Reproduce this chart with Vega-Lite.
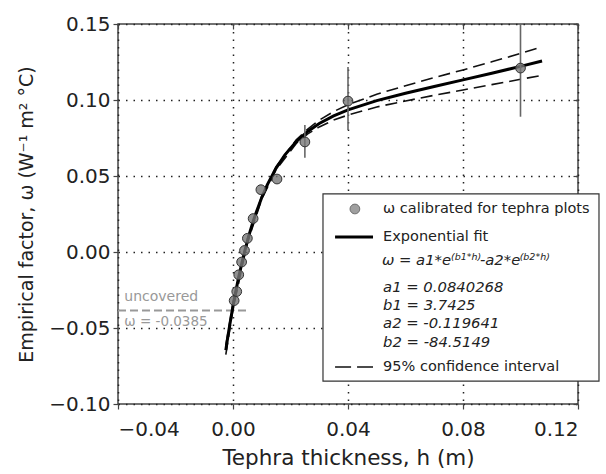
{
  "$schema": "https://vega.github.io/schema/vega-lite/v6.json",
  "width": 460,
  "height": 380,
  "autosize": {"type": "none"},
  "padding": {"left": 118, "right": 28, "top": 24, "bottom": 70},
  "background": "white",
  "config": {
    "font": "DejaVu Sans",
    "view": {"stroke": "#444", "strokeWidth": 1.5},
    "axis": {
      "labelFont": "DejaVu Sans",
      "titleFont": "DejaVu Sans",
      "labelFontSize": 20,
      "titleFontSize": 18,
      "titleFontWeight": "normal",
      "labelColor": "#222",
      "titleColor": "#222",
      "domain": false,
      "tickColor": "#444",
      "tickWidth": 1.2,
      "tickSize": 5,
      "gridColor": "#222",
      "gridDash": [1.5, 6],
      "gridWidth": 1.5
    }
  },
  "datasets": {
    "fit": [
      {"h": -0.0025, "w": -0.064546},
      {"h": -0.002, "w": -0.058272},
      {"h": -0.0015, "w": -0.052256},
      {"h": -0.001, "w": -0.046479},
      {"h": -0.0005, "w": -0.040935},
      {"h": 0, "w": -0.035614},
      {"h": 0.0005, "w": -0.030507},
      {"h": 0.001, "w": -0.025603},
      {"h": 0.0015, "w": -0.020896},
      {"h": 0.002, "w": -0.016378},
      {"h": 0.003, "w": -0.007876},
      {"h": 0.004, "w": -0.000032},
      {"h": 0.005, "w": 0.007206},
      {"h": 0.006, "w": 0.013885},
      {"h": 0.007, "w": 0.020045},
      {"h": 0.008, "w": 0.025732},
      {"h": 0.01, "w": 0.035844},
      {"h": 0.012, "w": 0.044491},
      {"h": 0.015, "w": 0.055204},
      {"h": 0.018, "w": 0.063749},
      {"h": 0.022, "w": 0.072602},
      {"h": 0.026, "w": 0.079321},
      {"h": 0.03, "w": 0.084532},
      {"h": 0.035, "w": 0.089576},
      {"h": 0.04, "w": 0.093526},
      {"h": 0.05, "w": 0.09957},
      {"h": 0.06, "w": 0.10443},
      {"h": 0.07, "w": 0.10887},
      {"h": 0.08, "w": 0.113217},
      {"h": 0.09, "w": 0.117619},
      {"h": 0.1, "w": 0.122139},
      {"h": 0.1075, "w": 0.12563}
    ],
    "band": [
      {"h": -0.0025, "w": -0.0615, "b": "upper"},
      {"h": 0, "w": -0.0336, "b": "upper"},
      {"h": 0.005, "w": 0.0084, "b": "upper"},
      {"h": 0.01, "w": 0.0368, "b": "upper"},
      {"h": 0.015, "w": 0.0562, "b": "upper"},
      {"h": 0.022, "w": 0.0738, "b": "upper"},
      {"h": 0.026, "w": 0.0809, "b": "upper"},
      {"h": 0.03, "w": 0.0867, "b": "upper"},
      {"h": 0.035, "w": 0.0924, "b": "upper"},
      {"h": 0.04, "w": 0.0969, "b": "upper"},
      {"h": 0.05, "w": 0.1038, "b": "upper"},
      {"h": 0.06, "w": 0.1094, "b": "upper"},
      {"h": 0.07, "w": 0.1147, "b": "upper"},
      {"h": 0.08, "w": 0.1198, "b": "upper"},
      {"h": 0.09, "w": 0.1251, "b": "upper"},
      {"h": 0.1, "w": 0.1306, "b": "upper"},
      {"h": 0.1075, "w": 0.135, "b": "upper"},
      {"h": -0.0025, "w": -0.0675, "b": "lower"},
      {"h": 0, "w": -0.0376, "b": "lower"},
      {"h": 0.005, "w": 0.006, "b": "lower"},
      {"h": 0.01, "w": 0.0348, "b": "lower"},
      {"h": 0.015, "w": 0.0542, "b": "lower"},
      {"h": 0.022, "w": 0.0714, "b": "lower"},
      {"h": 0.026, "w": 0.0777, "b": "lower"},
      {"h": 0.03, "w": 0.0823, "b": "lower"},
      {"h": 0.035, "w": 0.0868, "b": "lower"},
      {"h": 0.04, "w": 0.0901, "b": "lower"},
      {"h": 0.05, "w": 0.0954, "b": "lower"},
      {"h": 0.06, "w": 0.0994, "b": "lower"},
      {"h": 0.07, "w": 0.1031, "b": "lower"},
      {"h": 0.08, "w": 0.1066, "b": "lower"},
      {"h": 0.09, "w": 0.1101, "b": "lower"},
      {"h": 0.1, "w": 0.1136, "b": "lower"},
      {"h": 0.1075, "w": 0.1162, "b": "lower"}
    ],
    "pts": [
      {"h": 0.0004, "w": -0.032},
      {"h": 0.0013, "w": -0.026},
      {"h": 0.002, "w": -0.015},
      {"h": 0.003, "w": -0.0066},
      {"h": 0.004, "w": 0.001},
      {"h": 0.005, "w": 0.009},
      {"h": 0.007, "w": 0.022},
      {"h": 0.0097, "w": 0.041},
      {"h": 0.0153, "w": 0.048},
      {"h": 0.025, "w": 0.0724},
      {"h": 0.04, "w": 0.0993},
      {"h": 0.1, "w": 0.121}
    ],
    "err": [
      {"h": 0.025, "lo": 0.062, "hi": 0.0836},
      {"h": 0.04, "lo": 0.0803, "hi": 0.1217},
      {"h": 0.1, "lo": 0.089, "hi": 0.15}
    ],
    "uncov": [
      {"h": -0.04, "h2": 0.0059, "w": -0.0385}
    ],
    "uncovText": [
      {"h": -0.0378, "w": -0.0296, "t": "uncovered", "s": 14},
      {"h": -0.0378, "w": -0.0463, "t": "ω = -0.0385", "s": 13.5}
    ],
    "box": [
      {"h": 0.0313, "h2": 0.1273, "w": 0.0382, "w2": -0.0849}
    ],
    "legPt": [
      {"h": 0.0424, "w": 0.0283}
    ],
    "legLine": [
      {"h": 0.0355, "h2": 0.0487, "w": 0.0099}
    ],
    "legDash": [
      {"h": 0.0355, "h2": 0.0487, "w": -0.0757}
    ],
    "legText": [
      {"h": 0.0522, "w": 0.0283, "t": "ω calibrated for tephra plots"},
      {"h": 0.0522, "w": 0.0099, "t": "Exponential fit"},
      {"h": 0.0522, "w": -0.0757, "t": "95% confidence interval"}
    ],
    "legItal": [
      {"h": 0.0518, "w": -0.0059, "t": "ω = a1*e"},
      {"h": 0.0859, "w": -0.0059, "t": "-a2*e"},
      {"h": 0.0522, "w": -0.0237, "t": "a1 = 0.0840268"},
      {"h": 0.0522, "w": -0.0355, "t": "b1 = 3.7425"},
      {"h": 0.0522, "w": -0.0474, "t": "a2 = -0.119641"},
      {"h": 0.0522, "w": -0.0599, "t": "b2 = -84.5149"}
    ],
    "legSup": [
      {"h": 0.0758, "w": -0.0036, "t": "(b1*h)"},
      {"h": 0.0997, "w": -0.0036, "t": "(b2*h)"}
    ]
  },
  "resolve": {"axis": {"x": "independent", "y": "independent"}},
  "layer": [
    {
      "data": {"name": "uncov"},
      "mark": {"type": "rule", "color": "#999", "strokeWidth": 2, "strokeDash": [8, 4]},
      "encoding": {
        "x": {"field": "h", "type": "quantitative", "scale": {"domain": [-0.04, 0.12], "nice": false, "zero": false},
          "axis": {"title": "Tephra thickness, h (m)", "titleFontSize": 21.5, "values": [-0.04, 0, 0.04, 0.08, 0.12], "format": ".2f", "labelPadding": 10, "titlePadding": 8, "grid": true}},
        "x2": {"field": "h2"},
        "y": {"field": "w", "type": "quantitative", "scale": {"domain": [-0.1, 0.15], "nice": false, "zero": false},
          "axis": {"title": "Empirical factor, ω (W⁻¹ m² °C)", "titleFontSize": 19, "values": [-0.1, -0.05, 0, 0.05, 0.1, 0.15], "format": ".2f", "labelPadding": 3, "titlePadding": 12, "grid": true}}
      }
    },
    {
      "data": {"name": "uncov"},
      "mark": {"type": "point", "opacity": 0},
      "encoding": {
        "x": {"field": "h", "type": "quantitative", "axis": {"orient": "top", "labels": false, "title": null, "grid": false, "tickSize": -5, "values": [-0.04, 0, 0.04, 0.08, 0.12]}},
        "y": {"field": "w", "type": "quantitative", "axis": {"orient": "right", "labels": false, "title": null, "grid": false, "tickSize": -5, "values": [-0.1, -0.05, 0, 0.05, 0.1, 0.15]}}
      }
    },
    {
      "data": {"name": "uncovText"},
      "mark": {"type": "text", "align": "left", "baseline": "middle", "color": "#999"},
      "encoding": {
        "x": {"field": "h", "type": "quantitative", "axis": null},
        "y": {"field": "w", "type": "quantitative", "axis": null},
        "text": {"field": "t"},
        "size": {"field": "s", "type": "quantitative", "scale": null}
      }
    },
    {
      "data": {"name": "band"},
      "mark": {"type": "line", "color": "#111", "strokeWidth": 1.6, "strokeDash": [12, 6]},
      "encoding": {
        "x": {"field": "h", "type": "quantitative", "axis": null},
        "y": {"field": "w", "type": "quantitative", "axis": null},
        "detail": {"field": "b"}
      }
    },
    {
      "data": {"name": "fit"},
      "mark": {"type": "line", "color": "#000", "strokeWidth": 3},
      "encoding": {
        "x": {"field": "h", "type": "quantitative", "axis": null},
        "y": {"field": "w", "type": "quantitative", "axis": null}
      }
    },
    {
      "data": {"name": "err"},
      "mark": {"type": "rule", "color": "#666", "strokeWidth": 1.6},
      "encoding": {
        "x": {"field": "h", "type": "quantitative", "axis": null},
        "y": {"field": "lo", "type": "quantitative", "axis": null},
        "y2": {"field": "hi"}
      }
    },
    {
      "data": {"name": "pts"},
      "mark": {"type": "point", "filled": true, "fill": "#777", "fillOpacity": 0.8, "stroke": "#333", "strokeWidth": 1, "size": 95},
      "encoding": {
        "x": {"field": "h", "type": "quantitative", "axis": null},
        "y": {"field": "w", "type": "quantitative", "axis": null}
      }
    },
    {
      "data": {"name": "box"},
      "mark": {"type": "rect", "fill": "white", "stroke": "#333", "strokeWidth": 1.2},
      "encoding": {
        "x": {"field": "h", "type": "quantitative", "axis": null},
        "x2": {"field": "h2"},
        "y": {"field": "w", "type": "quantitative", "axis": null},
        "y2": {"field": "w2"}
      }
    },
    {
      "data": {"name": "legPt"},
      "mark": {"type": "point", "filled": true, "fill": "#777", "stroke": "#333", "strokeWidth": 1, "size": 95},
      "encoding": {
        "x": {"field": "h", "type": "quantitative", "axis": null},
        "y": {"field": "w", "type": "quantitative", "axis": null}
      }
    },
    {
      "data": {"name": "legLine"},
      "mark": {"type": "rule", "color": "#000", "strokeWidth": 3},
      "encoding": {
        "x": {"field": "h", "type": "quantitative", "axis": null},
        "x2": {"field": "h2"},
        "y": {"field": "w", "type": "quantitative", "axis": null}
      }
    },
    {
      "data": {"name": "legDash"},
      "mark": {"type": "rule", "color": "#111", "strokeWidth": 1.6, "strokeDash": [16, 6]},
      "encoding": {
        "x": {"field": "h", "type": "quantitative", "axis": null},
        "x2": {"field": "h2"},
        "y": {"field": "w", "type": "quantitative", "axis": null}
      }
    },
    {
      "data": {"name": "legText"},
      "mark": {"type": "text", "align": "left", "baseline": "middle", "fontSize": 14.5, "color": "#222"},
      "encoding": {
        "x": {"field": "h", "type": "quantitative", "axis": null},
        "y": {"field": "w", "type": "quantitative", "axis": null},
        "text": {"field": "t"}
      }
    },
    {
      "data": {"name": "legItal"},
      "mark": {"type": "text", "align": "left", "baseline": "middle", "fontSize": 14.8, "fontStyle": "italic", "color": "#222"},
      "encoding": {
        "x": {"field": "h", "type": "quantitative", "axis": null},
        "y": {"field": "w", "type": "quantitative", "axis": null},
        "text": {"field": "t"}
      }
    },
    {
      "data": {"name": "legSup"},
      "mark": {"type": "text", "align": "left", "baseline": "middle", "fontSize": 9.5, "fontStyle": "italic", "color": "#222"},
      "encoding": {
        "x": {"field": "h", "type": "quantitative", "axis": null},
        "y": {"field": "w", "type": "quantitative", "axis": null},
        "text": {"field": "t"}
      }
    }
  ]
}
